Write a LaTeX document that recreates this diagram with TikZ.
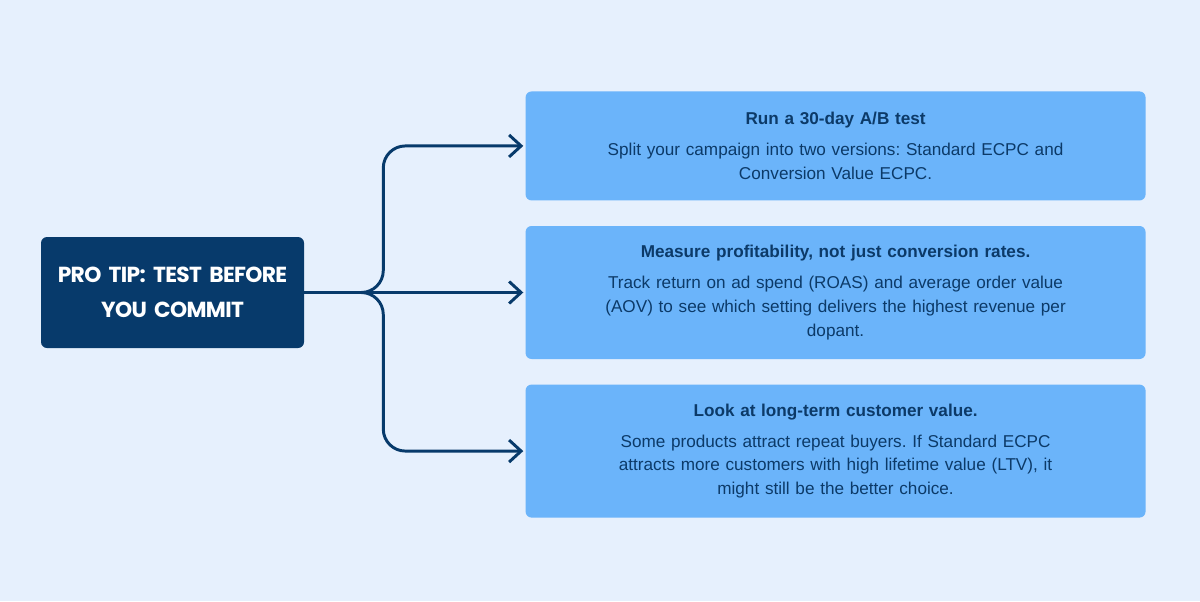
\documentclass[tikz,border=0pt]{standalone}
\usepackage{fontspec}
\setmainfont{Liberation Sans}
\newfontfamily\headfont[LetterSpace=-3]{Poppins}
\usetikzlibrary{arrows.meta, positioning}
\frenchspacing
\definecolor{pagebg}{RGB}{230,240,253}
\definecolor{navy}{RGB}{7,58,107}
\definecolor{cardblue}{RGB}{107,180,250}
\definecolor{inkblue}{RGB}{12,58,104}
\tikzset{
  tipbox/.style={rectangle, rounded corners=0.15cm, minimum width=6.575cm, minimum height=2.775cm, text width=6.2cm, align=center, fill=navy, text=white, font=\headfont\bfseries\fontsize{15.5pt}{24.9pt}\selectfont},
  card/.style={rectangle, rounded corners=0.15cm, minimum width=15.5cm, text width=15cm, align=center, fill=cardblue, text=inkblue, font=\fontsize{12.2pt}{17pt}\selectfont},
  arrow/.style={line width=2.1pt, draw=navy, -{Straight Barb[length=0.3cm, width=0.55cm]}, shorten >=0.05cm, rounded corners=0.55cm}
}
\begin{document}
\begin{tikzpicture}[node distance=0.625cm and 5.525cm]

  \fill [pagebg] (0,0) rectangle (30,15.025);

  \node (pro) [tipbox] at (4.3125,7.7125) {PRO TIP: TEST BEFORE\\YOU COMMIT};
  \node (meas) [card, minimum height=3.325cm, right=of pro] {{\bfseries Measure profitability, not just conversion rates.}\\[5pt]
    Track return on ad spend (ROAS) and average order value\\(AOV) to see which setting delivers the highest revenue per\\dopant.};
  \node (run) [card, minimum height=2.725cm, above=of meas] {{\bfseries Run a 30-day A/B test}\\[5pt]
    Split your campaign into two versions: Standard ECPC and\\Conversion Value ECPC.};
  \node (look) [card, minimum height=3.325cm, below=of meas] {{\bfseries Look at long-term customer value.}\\[5pt]
    Some products attract repeat buyers. If Standard ECPC\\attracts more customers with high lifetime value (LTV), it\\might still be the better choice.};
  \coordinate [right=1.975cm of pro.east] (fork);

  \draw [arrow] (pro.east) -- (fork) |- (run.west);
  \draw [arrow] (pro.east) -- (meas.west);
  \draw [arrow] (pro.east) -- (fork) |- (look.west);

\end{tikzpicture}
\end{document}
